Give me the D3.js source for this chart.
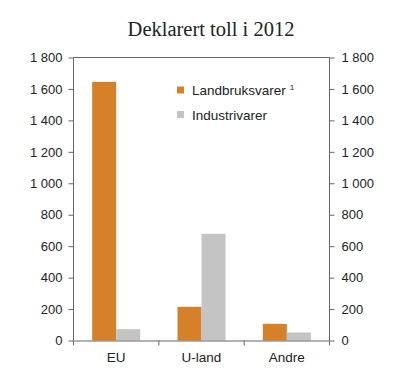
<!DOCTYPE html>
<html><head><meta charset="utf-8">
<script src="https://cdn.jsdelivr.net/npm/d3@7"></script>
<style>body{margin:0;background:#fff}</style>
</head><body>
<script>
const categories = ["EU", "U-land", "Andre"];
const seriesNames = ["Landbruksvarer", "Industrivarer"];
const landbruk = [1645, 214, 106];
const industri = [72, 679, 51];
const yTicks = [0, 200, 400, 600, 800, 1000, 1200, 1400, 1600, 1800];
const colors = ["#d6812a", "#c4c4c4"];

const W = 400, H = 386;
const m = {left: 73.5, right: 70.5, top: 57.5, bottom: 45.5};
const svg = d3.select("body").append("svg").attr("width", W).attr("height", H);
const iw = W - m.left - m.right, ih = H - m.top - m.bottom;
const g = svg.append("g").attr("transform", `translate(${m.left},${m.top})`);

const x = d3.scaleBand().domain(categories).range([0, iw]);
const y = d3.scaleLinear().domain([0, 1800]).range([ih, 0]);
const fmt = d => d3.format(",")(d).replace(/,/g, "\u00a0");
const bw = 24;

svg.append("text").attr("x", 211).attr("y", 36).attr("text-anchor", "middle")
  .attr("font-family", "Liberation Serif, Times New Roman, serif").attr("font-size", 20.5)
  .attr("fill", "#222").text("Deklarert toll i 2012");

const data = [landbruk, industri];
data.forEach((vals, si) => {
  g.selectAll(".b" + si).data(categories).enter().append("rect")
    .attr("x", c => x(c) + x.bandwidth() / 2 - bw + si * bw)
    .attr("width", bw)
    .attr("y", (c, i) => y(vals[i]))
    .attr("height", (c, i) => ih - y(vals[i]))
    .attr("fill", colors[si]);
});

const axisColor = "#666";
const font = "Liberation Sans, Arial, sans-serif";
const la = g.append("g").call(d3.axisLeft(y).tickValues(yTicks).tickFormat(fmt).tickSize(5).tickPadding(6));
const ra = g.append("g").attr("transform", `translate(${iw},0)`).call(d3.axisRight(y).tickValues(yTicks).tickFormat(fmt).tickSize(5).tickPadding(7));
[la, ra].forEach(a => {
  a.select(".domain").attr("stroke", axisColor).attr("d", a === la ? `M0,0V${ih}` : `M0,0V${ih}`);
  a.selectAll(".tick line").attr("stroke", axisColor);
  a.selectAll("text").attr("font-family", font).attr("font-size", 13).attr("fill", "#222");
});
// top frame line
g.append("line").attr("x1", 0).attr("x2", iw).attr("y1", 0).attr("y2", 0).attr("stroke", axisColor);

const xa = g.append("g").attr("transform", `translate(0,${ih})`).call(d3.axisBottom(x).tickSize(0).tickPadding(12));
xa.select(".domain").attr("stroke", axisColor);
xa.selectAll("text").attr("font-family", font).attr("font-size", 13.5).attr("fill", "#222");
const bounds = categories.map(c => x(c)).concat([iw]);
g.selectAll(".ct").data(bounds).enter().append("line")
  .attr("x1", d => d).attr("x2", d => d).attr("y1", ih).attr("y2", ih + 5).attr("stroke", axisColor);

// legend
const lg = svg.append("g");
seriesNames.forEach((n, i) => {
  const yy = 86.5 + i * 24.5;
  lg.append("rect").attr("x", 177).attr("y", yy).attr("width", 7).attr("height", 7).attr("fill", colors[i]);
  const t = lg.append("text").attr("x", 192).attr("y", yy + 8.5).attr("font-family", font)
    .attr("font-size", 13.5).attr("fill", "#222").text(n);
  if (i === 0) t.append("tspan").attr("dx", 4).attr("dy", -5).attr("font-size", 8).text("1");
});
</script>
</body></html>
